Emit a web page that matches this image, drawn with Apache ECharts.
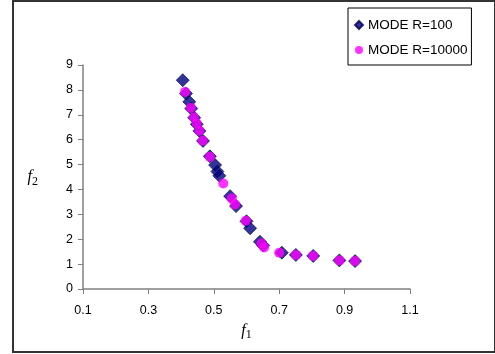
<!DOCTYPE html>
<html>
<head>
<meta charset="utf-8">
<script src="https://cdn.jsdelivr.net/npm/echarts@6/dist/echarts.min.js"></script>
<style>
  html, body { margin: 0; padding: 0; background: #fff; }
  #chart { width: 495px; height: 354px; }
</style>
</head>
<body>
<div id="chart"></div>
<script>
// [f1, f2]
var modeR100 = [
  [0.405, 8.39], [0.415, 7.85], [0.425, 7.52], [0.431, 7.25], [0.440, 6.88],
  [0.448, 6.62], [0.456, 6.35], [0.467, 5.95], [0.488, 5.33], [0.504, 4.98],
  [0.511, 4.72], [0.517, 4.55], [0.550, 3.73], [0.568, 3.33], [0.600, 2.72],
  [0.611, 2.44], [0.641, 1.90], [0.651, 1.75], [0.708, 1.46], [0.751, 1.37],
  [0.804, 1.33], [0.884, 1.15], [0.932, 1.12]
];
var modeR10000 = [
  [0.412, 7.92], [0.430, 7.28], [0.439, 6.90], [0.448, 6.65], [0.456, 6.36],
  [0.466, 5.96], [0.488, 5.31], [0.529, 4.24], [0.555, 3.64], [0.565, 3.40],
  [0.598, 2.74], [0.646, 1.83], [0.654, 1.67], [0.700, 1.46], [0.751, 1.37],
  [0.804, 1.33], [0.884, 1.15], [0.932, 1.12]
];
var seriesNames = ['MODE R=100', 'MODE R=10000'];
var xMin = 0.1, xMax = 1.1, xStep = 0.2;
var yMin = 0, yMax = 9, yStep = 1;

var chart = echarts.init(document.getElementById('chart'));
var font = 'Liberation Sans, Arial, sans-serif';
var nameRich = {
  i: { fontFamily: 'Liberation Serif, Times New Roman, serif', fontStyle: 'italic', fontSize: 16, color: '#000' },
  s: { fontFamily: 'Liberation Serif, Times New Roman, serif', fontSize: 12, color: '#000', verticalAlign: 'bottom', padding: [9, 0, 0, 0] }
};

var option = {
  animation: false,
  backgroundColor: '#fff',
  grid: { left: 83, right: 85, top: 65, bottom: 65 },
  graphic: [{
    type: 'rect',
    shape: { x: 13, y: 1, width: 482, height: 351 },
    style: { fill: 'none', stroke: '#333', lineWidth: 2 },
    z: -10
  }],
  legend: {
    orient: 'vertical',
    left: 348,
    top: 8,
    padding: [10, 4, 8, 6],
    itemGap: 11,
    itemWidth: 8,
    itemHeight: 8,
    borderColor: '#000',
    borderWidth: 1,
    backgroundColor: '#fff',
    textStyle: { fontFamily: font, fontSize: 13.5, color: '#000' },
    data: [
      { name: seriesNames[0], icon: 'diamond' },
      { name: seriesNames[1], icon: 'circle' }
    ]
  },
  xAxis: {
    type: 'value',
    min: xMin, max: xMax, interval: xStep,
    name: '{i|f}{s|1}',
    nameLocation: 'middle',
    nameGap: 31,
    nameTextStyle: { rich: nameRich },
    axisLine: { onZero: false, lineStyle: { color: '#808080', width: 1.5 } },
    axisTick: { show: true, length: 5, lineStyle: { color: '#808080' } },
    axisLabel: { fontFamily: font, fontSize: 12.5, color: '#000', margin: 15,
      formatter: function (v) { return v.toFixed(1); } },
    splitLine: { show: false }
  },
  yAxis: {
    type: 'value',
    min: yMin, max: yMax, interval: yStep,
    name: '{i|f}{s|2}',
    nameLocation: 'middle',
    nameRotate: 0,
    nameGap: 45,
    nameTextStyle: { rich: nameRich },
    axisLine: { show: true, onZero: false, lineStyle: { color: '#808080', width: 1.5 } },
    axisTick: { show: true, length: 5, lineStyle: { color: '#808080' } },
    axisLabel: { fontFamily: font, fontSize: 12.5, color: '#000', margin: 10 },
    splitLine: { show: false }
  },
  series: [{
    name: seriesNames[0],
    type: 'scatter',
    symbol: 'diamond',
    symbolSize: 13,
    data: modeR100,
    itemStyle: { color: '#000080', borderColor: '#000050', borderWidth: 0.8 }
  }, {
    name: seriesNames[1],
    type: 'scatter',
    symbol: 'circle',
    symbolSize: 10,
    data: modeR10000,
    itemStyle: { color: '#ff00ff' }
  }]
};
chart.setOption(option);
</script>
</body>
</html>
